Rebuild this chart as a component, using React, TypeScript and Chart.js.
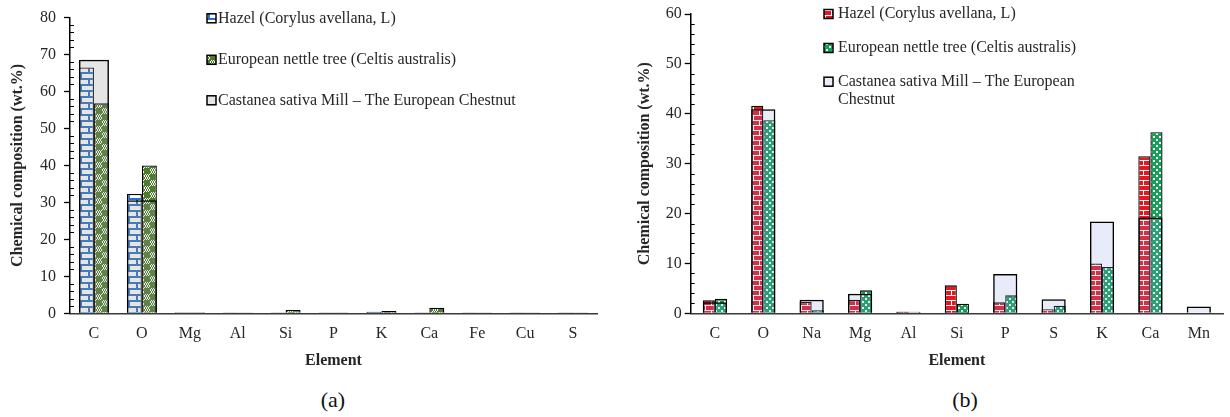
import React, { useEffect, useRef } from 'react';
import { Chart, registerables } from 'chart.js';

Chart.register(...registerables);

// ---------- data ----------
const categoriesA = ['C', 'O', 'Mg', 'Al', 'Si', 'P', 'K', 'Ca', 'Fe', 'Cu', 'S'];
const hazelA = [66.5, 32.3, 0.2, 0.1, 0.1, 0.1, 0.4, 0.2, 0.1, 0.1, 0.1];
const nettleA = [56.8, 40.0, 0.1, 0.05, 0.9, 0.1, 0.6, 1.5, 0.05, 0.05, 0.05];
const castaneaA = [68.6, 30.6, 0.3, 0.1, 0.2, 0.1, 0.3, 0.2, 0.1, 0.1, 0.1];
const yMaxA = 80;

const categoriesB = ['C', 'O', 'Na', 'Mg', 'Al', 'Si', 'P', 'S', 'K', 'Ca', 'Mn'];
const hazelB = [2.6, 41.6, 2.3, 2.7, 0.3, 5.6, 2.2, 0.8, 10.0, 31.5, 0];
const nettleB = [2.9, 38.7, 0.6, 4.6, 0.1, 1.9, 3.6, 1.5, 9.3, 36.3, 0.1];
const castaneaB = [2.2, 40.9, 2.7, 3.9, 0.3, 0.3, 7.9, 2.8, 18.4, 19.2, 1.35];
const yMaxB = 60;

const majorStep = 10;
const minorStep = 2;

const seriesNames = [
  'Hazel (Corylus avellana, L)',
  'European nettle tree (Celtis australis)',
  'Castanea sativa Mill \u2013 The European Chestnut',
];
const yTitle = 'Chemical composition (wt.%)';
const xTitle = 'Element';
const captions = ['(a)', '(b)'];

const SERIF = "'Liberation Serif', 'Times New Roman', 'DejaVu Serif', serif";

// ---------- patterns ----------
function tile(w: number, h: number, draw: (g: CanvasRenderingContext2D) => void) {
  const c = document.createElement('canvas');
  c.width = w;
  c.height = h;
  const g = c.getContext('2d') as CanvasRenderingContext2D;
  draw(g);
  return g.createPattern(c, 'repeat') as CanvasPattern;
}

function brickBlue() {
  return tile(16, 12, (g) => {
    g.fillStyle = '#ffffff';
    g.fillRect(0, 0, 16, 12);
    g.fillStyle = '#2a72c6';
    g.fillRect(0, 0, 16, 2);
    g.fillRect(0, 6, 16, 2);
    g.fillRect(0, 0, 2, 6);
    g.fillRect(8, 6, 2, 6);
  });
}

function checkGreen() {
  return tile(12, 12, (g) => {
    g.fillStyle = '#ffffff';
    g.fillRect(0, 0, 12, 12);
    g.fillStyle = '#4d7c2c';
    g.fillRect(0, 0, 6, 6);
    g.fillRect(6, 6, 6, 6);
    for (let y = 0; y < 6; y += 2) {
      for (let x = 0; x < 6; x += 2) {
        const o = (y / 2) % 2 === 0 ? 0 : 1;
        g.fillRect(6 + x + o, y, 1, 1);
        g.fillRect(x + o, 6 + y, 1, 1);
        g.fillRect(6 + x + 1 - o, y + 1, 1, 1);
        g.fillRect(x + 1 - o, 6 + y + 1, 1, 1);
      }
    }
  });
}

function brickRed() {
  return tile(12, 10, (g) => {
    g.fillStyle = '#e8161e';
    g.fillRect(0, 0, 12, 10);
    g.fillStyle = '#ffffff';
    g.fillRect(0, 0, 12, 1);
    g.fillRect(0, 5, 12, 1);
    g.fillRect(0, 0, 1, 5);
    g.fillRect(6, 5, 1, 5);
  });
}

function dotsGreen() {
  return tile(6, 6, (g) => {
    g.fillStyle = '#15a158';
    g.fillRect(0, 0, 6, 6);
    g.fillStyle = '#ffffff';
    g.fillRect(1, 1, 2, 2);
    g.fillRect(4, 4, 2, 2);
  });
}

// ---------- plugins ----------
const minorTicksPlugin = {
  id: 'minorTicks',
  afterDraw(chart: any, _args: any, opts: any) {
    const ys = chart.scales.y;
    if (!ys) return;
    const ctx = chart.ctx;
    const x0 = chart.chartArea.left;
    ctx.save();
    ctx.strokeStyle = '#000';
    ctx.lineWidth = 1;
    for (let v = ys.min; v <= ys.max; v += opts.step) {
      if (v % majorStep === 0) continue;
      const py = Math.round(ys.getPixelForValue(v)) + 0.5;
      ctx.beginPath();
      ctx.moveTo(x0 - opts.out, py);
      ctx.lineTo(x0 + opts.inside, py);
      ctx.stroke();
    }
    ctx.restore();
  },
};

function wrapText(ctx: CanvasRenderingContext2D, text: string, maxWidth: number) {
  const words = text.split(' ');
  const lines: string[] = [];
  let cur = '';
  for (const w of words) {
    const t = cur ? cur + ' ' + w : w;
    if (ctx.measureText(t).width > maxWidth && cur) {
      lines.push(cur);
      cur = w;
    } else cur = t;
  }
  if (cur) lines.push(cur);
  return lines;
}

const boxLegendPlugin = {
  id: 'boxLegend',
  afterDraw(chart: any, _args: any, opts: any) {
    const ctx = chart.ctx as CanvasRenderingContext2D;
    ctx.save();
    ctx.font = `${opts.fontSize}px ${SERIF}`;
    ctx.textBaseline = 'middle';
    ctx.textAlign = 'left';
    opts.items.forEach((it: any, i: number) => {
      const y = opts.rows[i];
      const ds = chart.data.datasets[it.dataset];
      const s = opts.box;
      ctx.fillStyle = '#ffffff';
      ctx.fillRect(opts.boxX, y - s / 2, s, s);
      ctx.fillStyle = ds.backgroundColor;
      ctx.fillRect(opts.boxX, y - s / 2, s, s);
      ctx.strokeStyle = '#000';
      ctx.lineWidth = 1.5;
      ctx.strokeRect(opts.boxX, y - s / 2, s, s);
      ctx.fillStyle = '#262626';
      const lines = wrapText(ctx, ds.label, opts.maxWidth);
      lines.forEach((ln, k) => ctx.fillText(ln, opts.textX, y + k * opts.lineGap));
    });
    ctx.restore();
  },
};

// ---------- chart ----------
type PanelProps = {
  left: number;
  labels: string[];
  hazel: number[];
  nettle: number[];
  castanea: number[];
  yMax: number;
  variant: 'a' | 'b';
};

function Panel(p: PanelProps) {
  const ref = useRef<HTMLCanvasElement>(null);
  useEffect(() => {
    if (!ref.current) return;
    const isA = p.variant === 'a';
    const hazelFill = isA ? brickBlue() : brickRed();
    const nettleFill = isA ? checkGreen() : dotsGreen();
    const castFill = isA ? 'rgba(150,150,150,0.25)' : 'rgba(140,160,222,0.2)';
    const groupWidth = isA ? 0.626 : 0.5;
    const font = { family: SERIF, size: 16 };
    const boldFont = { family: SERIF, size: 16, weight: 'bold' as const };

    const chart = new Chart(ref.current, {
      type: 'bar',
      data: {
        labels: p.labels,
        datasets: [
          {
            label: seriesNames[0],
            data: p.hazel,
            order: 1,
            backgroundColor: hazelFill as any,
            borderColor: '#000',
            borderWidth: 1.3,
            categoryPercentage: groupWidth,
            barPercentage: 1,
          },
          {
            label: seriesNames[1],
            data: p.nettle,
            order: 1,
            backgroundColor: nettleFill as any,
            borderColor: '#000',
            borderWidth: 1.3,
            categoryPercentage: groupWidth,
            barPercentage: 1,
          },
          {
            label: seriesNames[2],
            data: p.castanea,
            order: 0,
            grouped: false,
            backgroundColor: castFill,
            borderColor: '#000',
            borderWidth: 1.5,
            categoryPercentage: 1,
            barPercentage: groupWidth,
          },
        ] as any,
      },
      options: {
        animation: false,
        responsive: true,
        maintainAspectRatio: false,
        layout: {
          padding: { left: 0, right: isA ? 18 : 7, top: 14, bottom: 4.3 },
        },
        plugins: {
          legend: { display: false },
          tooltip: { enabled: false },
          minorTicks: { step: minorStep, out: 0, inside: 4 },
          boxLegend: isA
            ? {
                items: [{ dataset: 0 }, { dataset: 1 }, { dataset: 2 }],
                rows: [18.3, 59.8, 100.3],
                boxX: 207,
                textX: 218,
                box: 9,
                fontSize: 16,
                maxWidth: 400,
                lineGap: 18.5,
              }
            : {
                items: [{ dataset: 0 }, { dataset: 1 }, { dataset: 2 }],
                rows: [14, 48, 81.7],
                boxX: 209,
                textX: 223,
                box: 9,
                fontSize: 16,
                maxWidth: 255,
                lineGap: 18.5,
              },
        } as any,
        scales: {
          x: {
            type: 'category',
            offset: true,
            grid: { display: true, drawOnChartArea: false, drawTicks: false, offset: true },
            border: { display: true, color: '#3a3a3a', width: 1.5 },
            ticks: { font, color: '#262626', padding: 11, maxRotation: 0, autoSkip: false },
            title: {
              display: true,
              text: xTitle,
              font: boldFont,
              color: '#262626',
              padding: { top: -3, bottom: 5 },
            },
          },
          y: {
            min: 0,
            max: p.yMax,
            ticks: { stepSize: majorStep, font, color: '#262626', padding: isA ? 8 : 3 },
            grid: {
              drawOnChartArea: false,
              drawTicks: true,
              tickLength: 6,
              tickColor: '#000',
              tickWidth: 1.3,
            },
            border: { display: true, color: '#000', width: 1.5 },
            title: {
              display: true,
              text: yTitle,
              font: boldFont,
              color: '#262626',
              padding: { top: isA ? 8 : 20, bottom: 0 },
            },
            afterFit: (s: any) => {
              s.width = isA ? 70 : 75.7;
            },
          },
        } as any,
      },
      plugins: [minorTicksPlugin, boxLegendPlugin],
    });
    return () => chart.destroy();
  }, []);

  return (
    <div style={{ position: 'absolute', left: p.left, top: 0, width: 615, height: 380 }}>
      <canvas ref={ref} />
    </div>
  );
}

export default function App() {
  return (
    <div
      style={{
        position: 'absolute',
        left: 0,
        top: 0,
        width: 1230,
        height: 417,
        background: '#ffffff',
        fontFamily: SERIF,
        overflow: 'hidden',
      }}
    >
      <Panel left={0} labels={categoriesA} hazel={hazelA} nettle={nettleA} castanea={castaneaA} yMax={yMaxA} variant="a" />
      <Panel left={615} labels={categoriesB} hazel={hazelB} nettle={nettleB} castanea={castaneaB} yMax={yMaxB} variant="b" />
      <div style={{ position: 'absolute', left: 283, width: 100, top: 388, lineHeight: '24px', fontSize: 22, textAlign: 'center', color: '#111' }}>
        {captions[0]}
      </div>
      <div style={{ position: 'absolute', left: 915, width: 100, top: 388, lineHeight: '24px', fontSize: 22, textAlign: 'center', color: '#111' }}>
        {captions[1]}
      </div>
    </div>
  );
}
